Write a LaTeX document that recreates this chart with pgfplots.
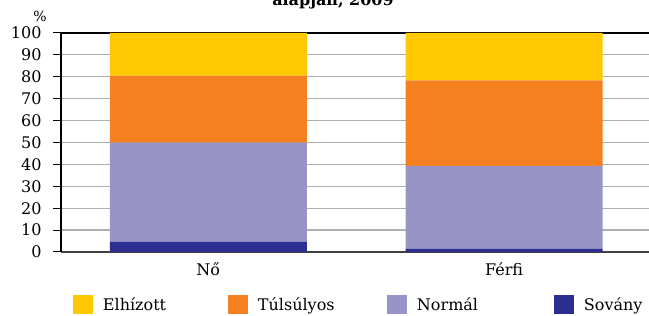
\documentclass[border=0pt]{standalone}
\usepackage{pgfplots}
\pgfplotsset{compat=1.18}
\usepackage{fontspec}
\setmainfont{DejaVu Serif}
\definecolor{cElh}{RGB}{255,200,0}
\definecolor{cTul}{RGB}{245,128,32}
\definecolor{cNor}{RGB}{153,148,200}
\definecolor{cSov}{RGB}{44,46,145}
\definecolor{gridc}{RGB}{175,175,175}
\begin{document}
\begin{tikzpicture}
\useasboundingbox (-61pt,-64pt) rectangle (588pt,252pt);
\clip (-61pt,-64pt) rectangle (588pt,252pt);
\node[anchor=base, font=\bfseries\fontsize{16}{19}\selectfont] at (272pt,246pt) {alapján, 2009};
\node[font=\fontsize{14}{16}\selectfont] at (-21pt,236pt) {\%};
\begin{axis}[
  at={(0pt,0pt)}, anchor=south west,
  scale only axis, width=588pt, height=219pt,
  ybar stacked, bar width=197pt,
  xmin=-0.498, xmax=1.49, ymin=0, ymax=100,
  xtick={0,1}, xticklabels={Nő,Férfi},
  ytick={0,10,...,100},
  axis x line*=bottom, axis y line*=left,
  x axis line style={draw=black!75, line width=1.2pt},
  y axis line style={draw=black, line width=1.5pt},
  x tick style={draw=none},
  y tick style={draw=black, line width=1pt},
  tick align=outside, major tick length=8pt,
  ymajorgrids, grid style={gridc, line width=1.2pt},
  extra y ticks={100}, extra y tick labels={},
  extra y tick style={grid style={black, line width=1.2pt}, major tick length=0pt},
  /pgf/number format/assume math mode=true,
  yticklabel style={font=\fontsize{16}{19}\selectfont, xshift=-8pt},
  xticklabel style={font=\fontsize{16}{19}\selectfont, yshift=1pt},
  legend columns=4, reverse legend,
  legend cell align=left,
  legend style={at={(axis description cs:0.0204,-0.242)}, anchor=west,
    draw=none, fill=none, inner sep=0pt, outer sep=0pt,
    font=\fontsize{16}{19}\selectfont,
    nodes={inner sep=0pt},
    /tikz/every odd column/.append style={column sep=10pt},
    /tikz/every even column/.append style={column sep=0pt}},
  legend image code/.code={\fill[#1,draw=none] (0pt,-9.5pt) rectangle (20pt,9.5pt);},
]
\addplot[fill=cSov, draw=none] coordinates {(0,4.6) (1,1.5)};
\addlegendentry{Sovány}
\addplot[fill=cNor, draw=none] coordinates {(0,45.3) (1,37.8)};
\addlegendentry{\makebox[137pt][l]{Normál}}
\addplot[fill=cTul, draw=none] coordinates {(0,30.6) (1,39.1)};
\addlegendentry{\makebox[129pt][l]{Túlsúlyos}}
\addplot[fill=cElh, draw=none] coordinates {(0,19.5) (1,21.6)};
\addlegendentry{\makebox[125pt][l]{Elhízott}}
\end{axis}
\end{tikzpicture}
\end{document}
